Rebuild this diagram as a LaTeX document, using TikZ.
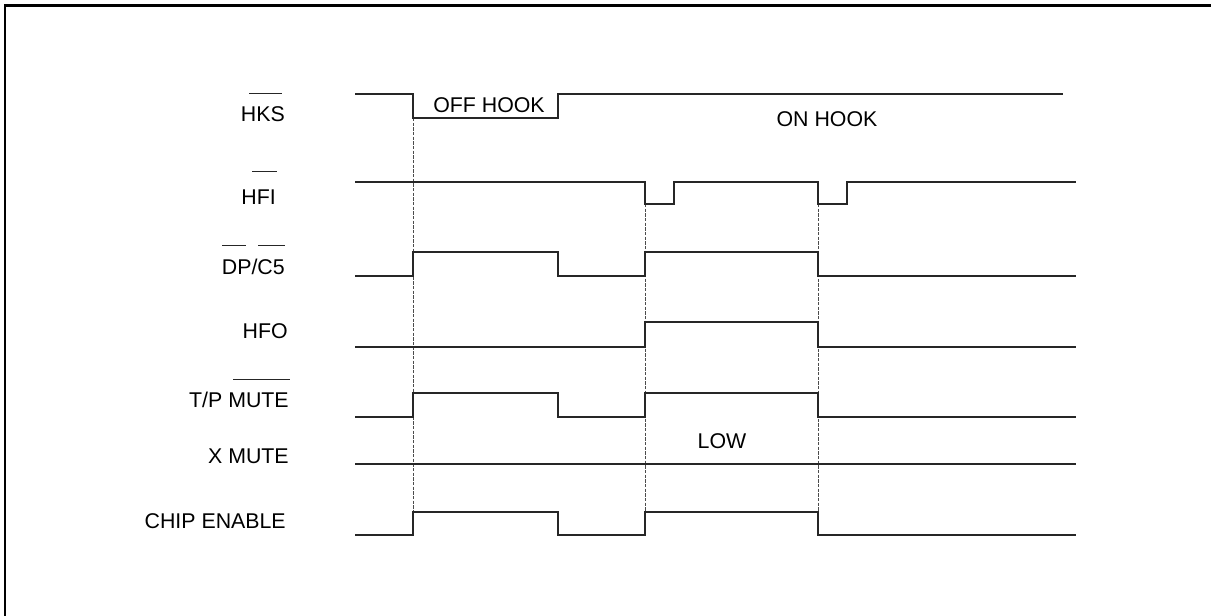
\documentclass[tikz,border=0pt]{standalone}
\usepackage{fontspec}
\setmainfont{Liberation Sans}
\begin{document}
\begin{tikzpicture}[x=0.75pt,y=-0.75pt,
  sig/.style={line width=0.8pt,draw=black!85},
  guide/.style={line width=0.6pt,draw=black!70,dash pattern=on 2.5pt off 1pt},
  frame/.style={line width=1.6pt,draw=black},
  bar/.style={line width=0.7pt,draw=black!85},
  lbl/.style={inner sep=0pt,anchor=base east,font=\fontsize{16}{18}\selectfont},
  txt/.style={inner sep=0pt,anchor=base,font=\fontsize{16}{18}\selectfont}]
\useasboundingbox (0,0) rectangle (1211,616);
% frame (top and left edges only)
\draw[frame] (5,616) -- (5,5.5) -- (1211,5.5);
% guide lines
\draw[guide] (413,118) -- (413,535);
\draw[guide] (645,204) -- (645,535);
\draw[guide] (818,204) -- (818,535);
% labels
\node[lbl] (lhks) at (285,122) {HKS};
\node[lbl] (lhfi) at (276,205) {HFI};
\node[lbl] (ldp) at (285,275) {DP/C5};
\node[lbl] (lhfo) at (288,339) {HFO};
\node[lbl] (ltp) at (289,408) {T/P MUTE};
\node[lbl] (lxm) at (289,464) {X MUTE};
\node[lbl] (lce) at (286,529) {CHIP ENABLE};
% overbars
\draw[bar] (249,93) -- (282,93);
\draw[bar] (252,171) -- (277,171);
\draw[bar] (222,245) -- (246,245);
\draw[bar] (258,245) -- (285,245);
\draw[bar] (233,379) -- (290,379);
% waveforms
\draw[sig] (355,94) -- (413,94) -- (413,118) -- (558,118) -- (558,94) -- (1063,94);
\draw[sig] (355,182) -- (645,182) -- (645,204) -- (674,204) -- (674,182) -- (818,182) -- (818,204) -- (847,204) -- (847,182) -- (1076,182);
\draw[sig] (355,276) -- (413,276) -- (413,252) -- (558,252) -- (558,276) -- (645,276) -- (645,252) -- (818,252) -- (818,276) -- (1076,276);
\draw[sig] (355,347) -- (645,347) -- (645,322) -- (818,322) -- (818,347) -- (1076,347);
\draw[sig] (355,417) -- (413,417) -- (413,393) -- (558,393) -- (558,417) -- (645,417) -- (645,393) -- (818,393) -- (818,417) -- (1076,417);
\draw[sig] (355,464) -- (1076,464);
\draw[sig] (355,535) -- (413,535) -- (413,512) -- (558,512) -- (558,535) -- (645,535) -- (645,512) -- (818,512) -- (818,535) -- (1076,535);
% waveform texts
\node[txt] (toff) at (489,113) {OFF HOOK};
\node[txt] (ton) at (827,127) {ON HOOK};
\node[txt] (tlow) at (722,449) {LOW};
\end{tikzpicture}
\end{document}
